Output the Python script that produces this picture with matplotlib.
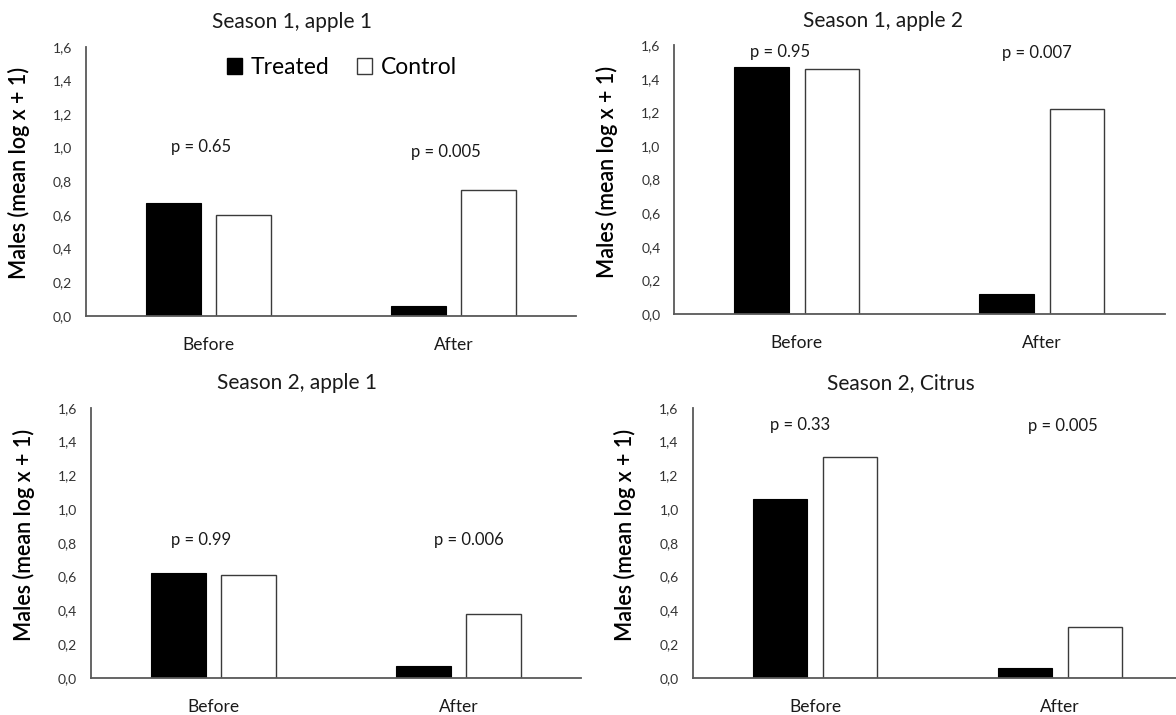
import numpy as np
import matplotlib.pyplot as plt
from matplotlib.patches import Patch

plt.rcParams['font.family'] = ['Lato', 'DejaVu Sans']

categories = ['Before', 'After']
titles = ['Season 1, apple 1', 'Season 1, apple 2', 'Season 2, apple 1', 'Season 2, Citrus']
treated = [[0.67, 0.06], [1.47, 0.12], [0.62, 0.07], [1.06, 0.06]]
control = [[0.60, 0.75], [1.46, 1.22], [0.61, 0.38], [1.31, 0.30]]
p_labels = [['p = 0.65', 'p = 0.005'], ['p = 0.95', 'p = 0.007'],
            ['p = 0.99', 'p = 0.006'], ['p = 0.33', 'p = 0.005']]
p_heights = [[1.005, 0.975], [1.56, 1.55], [0.815, 0.815], [1.50, 1.49]]
p_shift = [[-0.03, -0.03], [-0.07, -0.02], [-0.05, 0.04], [-0.06, 0.01]]
yticks = [0.0, 0.2, 0.4, 0.6, 0.8, 1.0, 1.2, 1.4, 1.6]

W, H = 1176, 715
fig = plt.figure(figsize=(W / 100, H / 100), dpi=100)

# axes boxes in pixels: left, right, top, bottom
boxes = [(85.7, 576, 46.7, 315.7), (674.4, 1164.5, 45, 314.3),
         (91, 581.4, 407.7, 678), (692.5, 1182.5, 407.7, 678)]
title_pos = [(291.9, 21.7), (882.8, 20.7), (297, 382.7), (900.7, 383.3)]

grey = '#595959'
x = np.arange(len(categories))
bw = 0.224
off = 0.143

for i in range(4):
    l, r, t, b = boxes[i]
    ax = fig.add_axes([l / W, 1 - b / H, (r - l) / W, (b - t) / H])
    ax.bar(x - off, treated[i], bw, color='black', edgecolor='black', linewidth=0.8)
    ax.bar(x + off, control[i], bw, color='white', edgecolor='#3a3a3a', linewidth=1.0)
    ax.set_xlim(-0.5, 1.5)
    ax.set_ylim(0, 1.6)
    ax.set_yticks(yticks)
    ax.set_yticklabels([f'{v:.1f}'.replace('.', ',') for v in yticks], fontsize=10, color='#333333')
    ax.set_xticks(x)
    ax.set_xticklabels(categories, fontsize=12.5, color='#1a1a1a')
    ax.tick_params(axis='y', length=0, pad=10)
    ax.tick_params(axis='x', length=0, pad=15)
    for s in ['top', 'right']:
        ax.spines[s].set_visible(False)
    for s in ['left', 'bottom']:
        ax.spines[s].set_color(grey)
        ax.spines[s].set_linewidth(1.3)
    ax.set_ylabel('Males (mean log x + 1)', fontsize=15.5, color='black', fontweight='semibold')
    ax.yaxis.set_label_coords(-56 / (r - l), 0.53)
    for j in range(2):
        ax.text(x[j] + p_shift[i][j], p_heights[i][j], p_labels[i][j],
                ha='center', va='center', fontsize=12, color='#1a1a1a')
    tx, ty = title_pos[i]
    fig.text(tx / W, 1 - ty / H, titles[i], ha='center', va='center',
             fontsize=15, color='#1a1a1a')
    if i == 0:
        handles = [Patch(facecolor='black', edgecolor='black'),
                   Patch(facecolor='white', edgecolor='#3a3a3a')]
        ax.legend(handles, ['Treated', 'Control'], loc='center',
                  bbox_to_anchor=(0.523, 0.923), ncol=2, frameon=False,
                  fontsize=16.5, handlelength=0.65, handleheight=0.65,
                  handletextpad=0.4, columnspacing=1.2)

fig.savefig('out.png', dpi=100)
